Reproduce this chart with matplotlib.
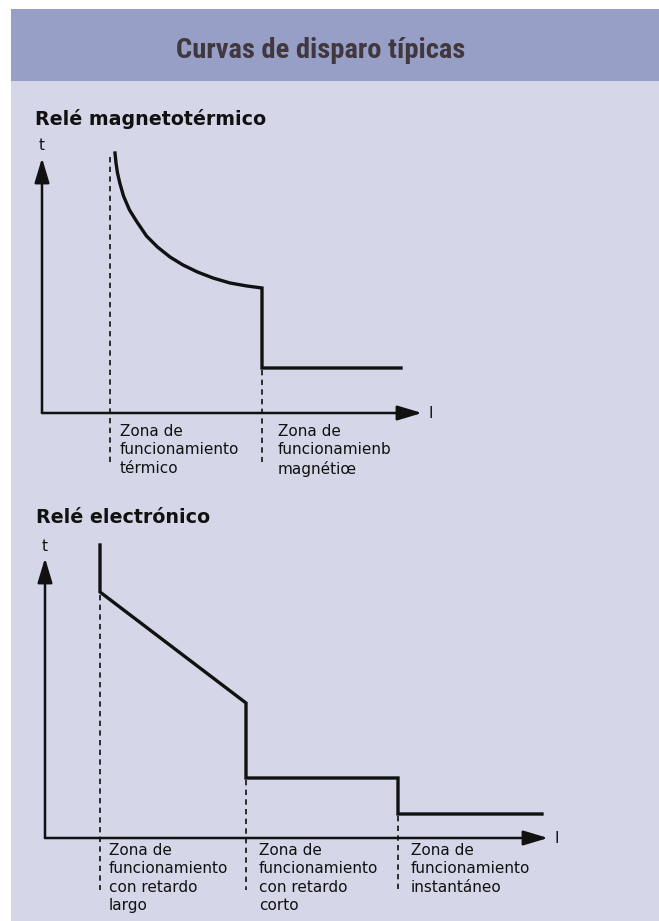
import matplotlib.pyplot as plt
from matplotlib.patches import Rectangle

# colours
HEADER = '#979fc7'
BODY = '#d5d6e8'
TITLE_COL = '#41373f'
INK = '#111111'

W, H = 659, 921

# --- Relé magnetotérmico (I, t in arbitrary units) ---
mt_I = [7.30, 7.40, 7.55, 7.78, 8.15, 8.75, 9.50, 10.45, 11.55, 12.80, 14.10,
        15.55, 17.10, 18.80, 20.50, 22.0, 22.0, 35.9]
mt_t = [26.0, 25.0, 24.0, 23.0, 21.7, 20.3, 19.1, 17.7, 16.6, 15.6, 14.8,
        14.1, 13.5, 13.0, 12.7, 12.5, 4.5, 4.5]
mt_zones = [6.8, 22.0]
mt_zone_top = [25.6, 4.3]
mt_labels = ['Zona de\nfuncionamiento\ntérmico',
             'Zona de\nfuncionamienb\nmagnétiœ']

# --- Relé electrónico ---
el_I = [5.5, 5.5, 20.1, 20.1, 35.3, 35.3, 49.7]
el_t = [29.3, 24.6, 13.5, 6.0, 6.0, 2.4, 2.4]
el_zones = [5.5, 20.1, 35.3]
el_zone_top = [24.3, 5.8, 2.2]
el_labels = ['Zona de\nfuncionamiento\ncon retardo\nlargo',
             'Zona de\nfuncionamiento\ncon retardo\ncorto',
             'Zona de\nfuncionamiento\ninstantáneo']

plt.rcParams['font.family'] = ['DejaVu Sans']

fig = plt.figure(figsize=(W / 100, H / 100), dpi=100)
bg = fig.add_axes([0, 0, 1, 1])
bg.set_xlim(0, W)
bg.set_ylim(H, 0)
bg.axis('off')
bg.add_patch(Rectangle((11, 81), W - 11, H - 81, color=BODY, lw=0))
bg.add_patch(Rectangle((11, 9), W - 11, 72, color=HEADER, lw=0))
bg.text(321, 58, 'Curvas de disparo típicas', ha='center', va='baseline',
        fontsize=20.5, fontweight='bold', color=TITLE_COL,
        family=['Roboto Condensed', 'Liberation Sans Narrow', 'DejaVu Sans'])
bg.text(35, 125, 'Relé magnetotérmico', ha='left', va='baseline',
        fontsize=13.7, fontweight='bold', color=INK)
bg.text(36, 523, 'Relé electrónico', ha='left', va='baseline',
        fontsize=13.7, fontweight='bold', color=INK)


def chart(ox, oy, xmax, ymax, I, t, zones, ztop, labels, ztext_dx,
          label_top, dash_bottom, x_tip, y_tip):
    # axes placed so that one unit = 10 px, origin at (ox, oy) px
    ax = fig.add_axes([ox / W, (H - oy) / H, xmax * 10 / W, ymax * 10 / H])
    ax.set_xlim(0, xmax)
    ax.set_ylim(0, ymax)
    ax.axis('off')
    arrow = dict(arrowstyle='-|>,head_length=1.0,head_width=0.3',
                 mutation_scale=15, lw=1.8, color=INK, shrinkA=0, shrinkB=0)
    ax.annotate('', xy=(x_tip, 0), xytext=(0, 0), arrowprops=arrow,
                annotation_clip=False)
    ax.annotate('', xy=(0, y_tip), xytext=(0, 0), arrowprops=arrow,
                annotation_clip=False)
    ax.text(0, y_tip + 1.2, 't', ha='center', va='center', fontsize=11, color=INK)
    ax.text(x_tip + 0.9, 0, 'I', ha='center', va='center', fontsize=11, color=INK)
    ax.plot(I, t, color=INK, lw=2.4, solid_joinstyle='miter', clip_on=False)
    for x, top, lab, dx in zip(zones, ztop, labels, ztext_dx):
        ax.plot([x, x], [top, dash_bottom], color=INK, lw=1.2,
                linestyle=(0, (3.2, 2.6)), clip_on=False)
        ax.text(x + dx, label_top, lab, ha='left', va='top', fontsize=11,
                color=INK, linespacing=1.29)
    return ax


chart(42, 413, 40, 27, mt_I, mt_t, mt_zones, mt_zone_top, mt_labels,
      [1.0, 1.6], -1.1, -4.9, 38.0, 25.5)
chart(45, 838, 52, 30, el_I, el_t, el_zones, el_zone_top, el_labels,
      [0.9, 1.3, 1.3], -0.5, -5.2, 50.3, 28.0)

fig.savefig('out.png', dpi=100)
